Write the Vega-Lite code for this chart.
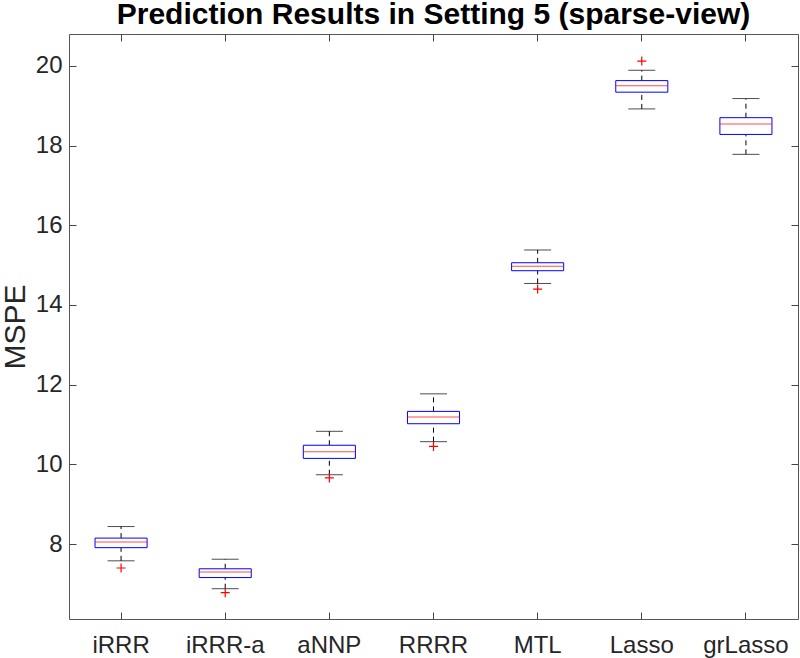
{
  "$schema": "https://vega.github.io/schema/vega-lite/v6.json",
  "width": 729,
  "height": 585,
  "autosize": {"type": "none"},
  "padding": {"left": 69, "top": 34, "right": 2, "bottom": 39},
  "background": "white",
  "title": {"text": "Prediction Results in Setting 5 (sparse-view)", "fontSize": 30, "font": "Liberation Sans", "fontWeight": "bold", "color": "black", "anchor": "middle", "offset": 4},
  "config": {
    "view": {"stroke": "#555", "strokeWidth": 1},
    "axis": {"domain": false, "labelFont": "Liberation Sans", "labelFontSize": 24, "labelColor": "#262626", "titleFont": "Liberation Sans", "titleColor": "#262626"}
  },
  "datasets": {
    "stats": [
      {"method": "iRRR", "lo": 7.58, "q1": 7.91, "med": 8.05, "q3": 8.15, "hi": 8.44},
      {"method": "iRRR-a", "lo": 6.88, "q1": 7.16, "med": 7.30, "q3": 7.38, "hi": 7.62},
      {"method": "aNNP", "lo": 9.74, "q1": 10.15, "med": 10.32, "q3": 10.48, "hi": 10.83},
      {"method": "RRRR", "lo": 10.57, "q1": 11.02, "med": 11.19, "q3": 11.33, "hi": 11.77},
      {"method": "MTL", "lo": 14.54, "q1": 14.86, "med": 14.97, "q3": 15.06, "hi": 15.38},
      {"method": "Lasso", "lo": 18.92, "q1": 19.34, "med": 19.50, "q3": 19.63, "hi": 19.89},
      {"method": "grLasso", "lo": 17.78, "q1": 18.28, "med": 18.54, "q3": 18.70, "hi": 19.18}
    ],
    "outliers": [
      {"method": "iRRR", "value": 7.40},
      {"method": "iRRR-a", "value": 6.78},
      {"method": "aNNP", "value": 9.66},
      {"method": "RRRR", "value": 10.45},
      {"method": "MTL", "value": 14.40},
      {"method": "Lasso", "value": 20.12}
    ]
  },
  "layer": [
    {
      "data": {"name": "stats"},
      "mark": {"type": "rule", "color": "black", "strokeDash": [5, 4], "strokeWidth": 1},
      "encoding": {
        "x": {"field": "method", "type": "nominal", "scale": {"domain": ["iRRR", "iRRR-a", "aNNP", "RRRR", "MTL", "Lasso", "grLasso"], "paddingInner": 0, "paddingOuter": 0},
              "axis": {"title": null, "labelAngle": 0, "ticks": false, "tickSize": 0, "labelPadding": 14, "orient": "bottom",
                       "grid": true, "gridColor": "#444", "gridOpacity": 1, "gridWidth": 1, "gridDash": [7, 571, 7, 0]}},
        "y": {"field": "q3", "type": "quantitative", "scale": {"domain": [6.12, 20.8], "nice": false, "zero": false},
              "axis": {"values": [8, 10, 12, 14, 16, 18, 20], "ticks": false, "tickSize": 0, "labelPadding": 7, "title": "MSPE", "titleFontSize": 30, "titleFontWeight": "normal", "titlePadding": 5, "orient": "left",
                       "grid": true, "gridColor": "#444", "gridOpacity": 1, "gridWidth": 1, "gridDash": [7, 715, 7, 0]}},
        "y2": {"field": "hi"}
      }
    },
    {
      "data": {"name": "stats"},
      "mark": {"type": "rule", "color": "black", "strokeDash": [5, 4], "strokeWidth": 1},
      "encoding": {
        "x": {"field": "method", "type": "nominal"},
        "y": {"field": "lo", "type": "quantitative"},
        "y2": {"field": "q1"}
      }
    },
    {
      "data": {"name": "stats"},
      "mark": {"type": "tick", "color": "black", "size": 27, "thickness": 1},
      "encoding": {
        "x": {"field": "method", "type": "nominal"},
        "y": {"field": "hi", "type": "quantitative"}
      }
    },
    {
      "data": {"name": "stats"},
      "mark": {"type": "tick", "color": "black", "size": 27, "thickness": 1},
      "encoding": {
        "x": {"field": "method", "type": "nominal"},
        "y": {"field": "lo", "type": "quantitative"}
      }
    },
    {
      "data": {"name": "stats"},
      "mark": {"type": "bar", "fill": "white", "stroke": "#0000FF", "strokeWidth": 1, "width": {"band": 0.5}},
      "encoding": {
        "x": {"field": "method", "type": "nominal"},
        "y": {"field": "q1", "type": "quantitative"},
        "y2": {"field": "q3"}
      }
    },
    {
      "data": {"name": "stats"},
      "mark": {"type": "tick", "color": "#FF0000", "size": 52, "thickness": 1},
      "encoding": {
        "x": {"field": "method", "type": "nominal"},
        "y": {"field": "med", "type": "quantitative"}
      }
    },
    {
      "data": {"name": "outliers"},
      "mark": {"type": "point", "shape": "M-1,0H1M0,-1V1", "filled": false, "stroke": "#FF0000", "strokeWidth": 1.2, "size": 81, "opacity": 1},
      "encoding": {
        "x": {"field": "method", "type": "nominal"},
        "y": {"field": "value", "type": "quantitative"}
      }
    }
  ]
}
